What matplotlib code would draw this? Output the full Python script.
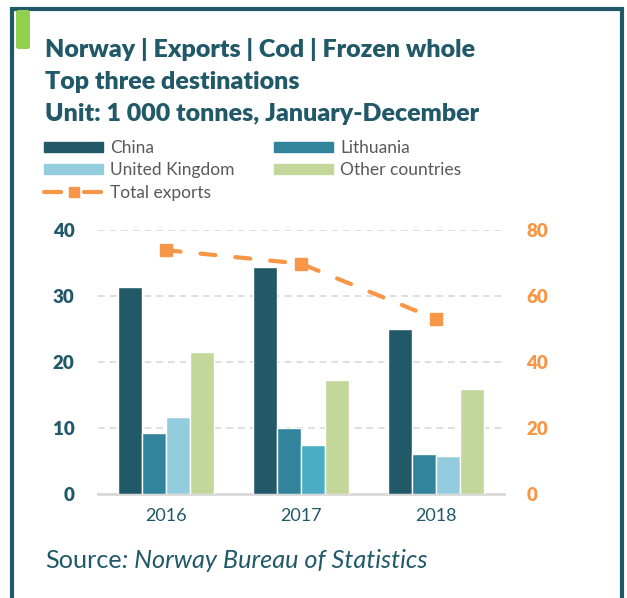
import numpy as np
import matplotlib.pyplot as plt
from matplotlib.patches import Rectangle, FancyBboxPatch
from matplotlib.lines import Line2D

plt.rcParams['font.family'] = ['Lato', 'DejaVu Sans']

years = ['2016', '2017', '2018']
china = [31.4, 34.4, 25.0]
lithuania = [9.2, 10.0, 6.0]
uk = [11.6, 7.5, 5.7]
other = [21.5, 17.3, 15.9]
total = [73.9, 69.8, 53.0]

dark = '#215968'
c_china = '#215968'
c_lith = '#31849B'
c_uk = '#93CDDD'
c_uk_2017 = '#4BACC6'   # the 2017 UK bar is drawn in a brighter blue
c_other = '#C4D79B'
orange = '#F79646'
grid = '#D9D9D9'

W, H = 627, 598
fig = plt.figure(figsize=(W / 100, H / 100), dpi=100)

# frame + green accent
fig.add_artist(Rectangle((12 / W, -0.05), (622 - 12) / W, 1.05 - 9 / H,
                         transform=fig.transFigure, fill=False,
                         edgecolor=dark, lw=3))
fig.add_artist(FancyBboxPatch((16 / W, 1 - 49 / H), 14 / W, 39 / H,
                              boxstyle='round,pad=0,rounding_size=0.004',
                              transform=fig.transFigure, color='#92D050', lw=0))

# title
titles = ['Norway | Exports | Cod | Frozen whole',
          'Top three destinations',
          'Unit: 1 000 tonnes, January-December']
for i, t in enumerate(titles):
    fig.text(45 / W, 1 - (57 + 32 * i) / H, t, fontsize=18, fontweight='heavy',
             color=dark, va='baseline', ha='left')

ax = fig.add_axes([98 / W, 1 - 494 / H, 406 / W, 264 / H])
x = np.arange(len(years))
w = 0.177
ax.bar(x - 1.5 * w, china, w, color=c_china, edgecolor='white', lw=1, zorder=3, label='China')
ax.bar(x - 0.5 * w, lithuania, w, color=c_lith, edgecolor='white', lw=1, zorder=3, label='Lithuania')
ax.bar(x + 0.5 * w, uk, w, color=[c_uk, c_uk_2017, c_uk], edgecolor='white', lw=1, zorder=3,
       label='United Kingdom')
ax.bar(x + 1.5 * w, other, w, color=c_other, edgecolor='white', lw=1, zorder=3, label='Other countries')

ax.set_xlim(-0.5, 2.5)
ax.set_ylim(0, 40)
ax.set_yticks([0, 10, 20, 30, 40])
ax.set_xticks(x)
ax.set_xticklabels(years)
for s in ['top', 'right', 'left']:
    ax.spines[s].set_visible(False)
ax.spines['bottom'].set_color(grid)
ax.spines['bottom'].set_linewidth(2)
ax.yaxis.grid(True, color=grid, lw=1.2, linestyle=(0, (4, 3)), zorder=0)
ax.set_axisbelow(True)
ax.tick_params(axis='y', length=0, pad=17, labelsize=13.5, labelcolor=dark)
ax.tick_params(axis='x', length=0, pad=10, labelsize=13, labelcolor=dark)
for lab in ax.get_yticklabels():
    lab.set_fontweight('heavy')

ax2 = ax.twinx()
ax2.set_ylim(0, 80)
ax2.set_yticks([0, 20, 40, 60, 80])
for s in ax2.spines.values():
    s.set_visible(False)
ax2.tick_params(axis='y', length=0, pad=16, labelsize=13.5, labelcolor=orange)
for lab in ax2.get_yticklabels():
    lab.set_fontweight('heavy')
ax2.plot(x, total, color=orange, lw=3, linestyle=(0, (3.6, 4.8)),
         dash_capstyle='round', marker='s', markersize=8.5, zorder=4)

# legend
handles = [
    Rectangle((0, 0), 1, 1, color=c_china),
    Rectangle((0, 0), 1, 1, color=c_uk),
    Line2D([], [], color=orange, lw=3, linestyle=(0, (4.1, 5.5)),
           dash_capstyle='round', marker='s', markersize=7.5),
    Rectangle((0, 0), 1, 1, color=c_lith),
    Rectangle((0, 0), 1, 1, color=c_other),
]
labels = ['China', 'United Kingdom', 'Total exports', 'Lithuania', 'Other countries']
leg = fig.legend(handles, labels, ncol=2, loc='upper left',
                 bbox_to_anchor=(44 / W, 1 - 140 / H), frameon=False,
                 fontsize=12.5, handlelength=3.4, handleheight=0.55,
                 handletextpad=0.4, labelspacing=0.36, columnspacing=2.3,
                 borderpad=0, borderaxespad=0)
for t in leg.get_texts():
    t.set_color('#595959')

# source line
src = fig.text(45 / W, 1 - 568 / H, 'Source', fontsize=18.2, color=dark,
               va='baseline', ha='left')
ax.annotate(': Norway Bureau of Statistics', xy=(1, 0), xycoords=src,
            fontsize=18.2, color=dark, style='italic', va='bottom', ha='left',
            annotation_clip=False)

fig.savefig('out.png', dpi=100)
